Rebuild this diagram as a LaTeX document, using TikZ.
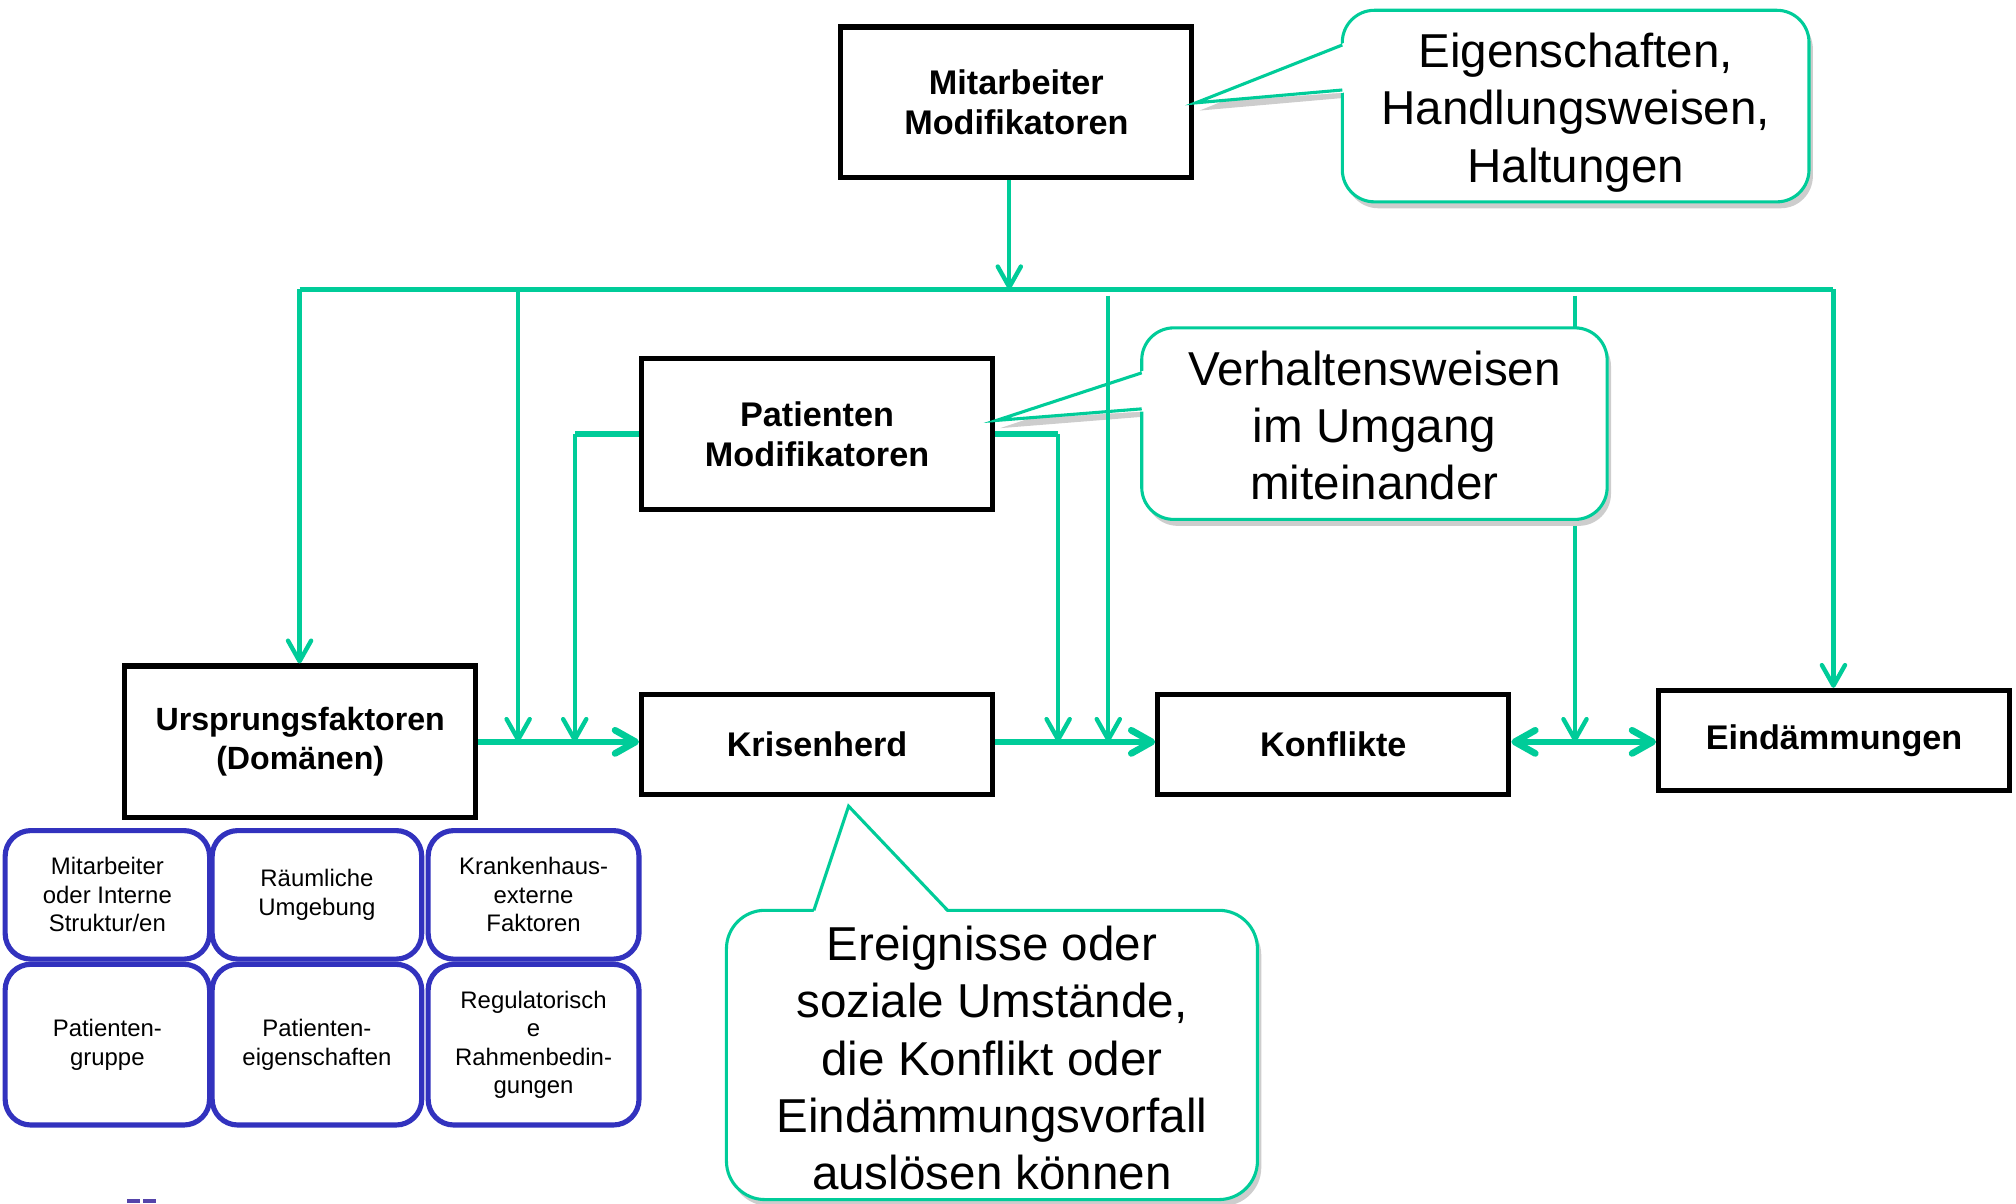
\documentclass[tikz,border=0pt]{standalone}
\usepackage{fontspec}
\setmainfont{Liberation Sans}
\usetikzlibrary{arrows.meta}
\definecolor{tealc}{RGB}{0,204,153}
\definecolor{bluec}{RGB}{50,50,190}
\definecolor{shadec}{RGB}{205,205,205}
\definecolor{logoc}{RGB}{85,68,170}
\begin{document}
\begin{tikzpicture}[x=0.5pt,y=-0.5pt,
  blk/.style={draw=black, line width=2pt, fill=white, inner sep=0pt, align=center,
    font=\fontsize{13.3}{15.5}\selectfont\bfseries, minimum width=136.5pt},
  gbox/.style={draw=bluec, line width=2pt, rounded corners=10pt, fill=white, inner sep=0pt,
    align=center, font=\fontsize{9.3}{11.1}\selectfont},
  ctext/.style={align=center, inner sep=0pt, font=\fontsize{18.5}{22.25}\selectfont},
  cbody/.style={draw=tealc, line width=1.2pt, fill=white},
  cptr/.style={draw=tealc, line width=1.2pt, line join=miter},
  conn/.style={draw=tealc, line width=1.7pt},
  tip/.tip={Straight Barb[length=8pt,width=9pt,round]},
  arr/.style={conn, -tip},
  harr/.style={draw=tealc, line width=2.6pt, -tip},
  ]
\useasboundingbox (0,0) rectangle (1568,935.7);

% ---- boxes ----
\node[blk, minimum height=58.5pt] (mm) at (790.5,79.5) {Mitarbeiter\\Modifikatoren};
\node[blk, minimum height=58.5pt] (pm) at (635.5,337.5) {Patienten\\Modifikatoren};
\node[blk, minimum height=59pt, font=\fontsize{12.5}{15}\selectfont\bfseries] (uf) at (233.5,577) {Ursprungsfaktoren\\(Domänen)};
\node[blk, minimum height=39pt] (kh) at (635.5,579) {Krisenherd};
\node[blk, minimum height=39pt] (ko) at (1037,579) {Konflikte};
\node[blk, minimum height=39pt] (ei) at (1426.5,576) {Eindämmungen};

% ---- bus ----
\coordinate (busL) at (233,225);
\coordinate (busR) at (1426,225);
\coordinate (busM) at (785,225);
\coordinate (b403) at (403,225);
\coordinate (b862) at (862,230);
\coordinate (b1225) at (1225,230);
\coordinate (j447) at (447,577);
\coordinate (j823) at (823,577);
\coordinate (k447) at (447,337.5);
\coordinate (k823) at (823,337.5);

\draw[arr] (mm.south -| busM) -- (busM);
\draw[draw=tealc, line width=2pt] (busL) -- (busR);
\draw[arr] (busL) -- (busL |- uf.north);
\draw[arr] (b403) -- (b403 |- uf.east);
\draw[arr] (busR) -- (busR |- ei.north);
\draw[arr] (b1225) -- (b1225 |- uf.east);
\draw[draw=tealc, line width=2.4pt] (pm.west) -- (k447);
\draw[draw=tealc, line width=2.4pt] (pm.east) -- (k823);
\draw[arr] (k447) -- (j447);
\draw[arr] (k823) -- (j823);

\draw[harr] (uf.east) -- (uf.east -| kh.west);
\draw[harr] (uf.east -| kh.east) -- (uf.east -| ko.west);
\draw[draw=tealc, line width=2.6pt, tip-tip] (uf.east -| ko.east) -- (uf.east -| ei.west);

% ---- callout 1 ----
\fill[shadec, rounded corners=12.5pt] (1047,13) rectangle (1410,162);
\fill[shadec] (933,86) -- (1047,40) -- (1047,76) -- cycle;
\draw[cbody, rounded corners=12.5pt] (1044,8) rectangle (1407,157);
\fill[white] (930,80) -- (1046.5,33) -- (1046.5,72) -- cycle;
\draw[cptr] (1044,35) -- (930,80) -- (1044,70);
\node[ctext] (c1) at (1225.5,87.5) {Eigenschaften,\\Handlungsweisen,\\Haltungen};

% ---- callout 2 ----
\fill[shadec, rounded corners=12.5pt] (891,260) rectangle (1253,409);
\fill[shadec] (778,333) -- (891,295) -- (891,324) -- cycle;
\draw[cbody, rounded corners=12.5pt] (888,255) rectangle (1250,404);
\fill[white] (775,327) -- (890.5,288) -- (890.5,320) -- cycle;
\draw[cptr] (888,290) -- (775,327) -- (888,318);
\node[ctext] (c2) at (1069,331) {Verhaltensweisen\\im Umgang\\miteinander};

\draw[arr] (b862) -- (b862 |- uf.east);

% ---- callout 3 ----
\fill[shadec, rounded corners=15pt] (568,713) rectangle (981,938);
\draw[cbody, rounded corners=15pt] (565,708) rectangle (978,933);
\fill[white] (660,627) -- (632.5,710.5) -- (737.5,710.5) -- cycle;
\draw[cptr] (633,708) -- (660,627) -- (737,708);
\node[ctext] (c3) at (771.5,823) {Ereignisse oder\\soziale Umstände,\\die Konflikt oder\\Eindämmungsvorfall\\auslösen können};

% ---- domain grid ----
\node[gbox, minimum width=79.5pt, minimum height=50pt] (g11) at (83.5,696) {Mitarbeiter\\oder Interne\\Struktur/en};
\node[gbox, minimum width=81.5pt, minimum height=50pt] (g12) at (246.5,696) {Räumliche\\Umgebung};
\node[gbox, minimum width=82pt, minimum height=50pt] (g13) at (415,696) {Krankenhaus-\\externe\\Faktoren};
\node[gbox, minimum width=79.5pt, minimum height=62.5pt] (g21) at (83.5,812.5) {Patienten-\\gruppe};
\node[gbox, minimum width=81.5pt, minimum height=62.5pt] (g22) at (246.5,812.5) {Patienten-\\eigenschaften};
\node[gbox, minimum width=82pt, minimum height=62.5pt] (g23) at (415,812.5) {Regulatorisch\\e\\Rahmenbedin-\\gungen};

% ---- logo fragment ----
\fill[logoc] (99,932.5) rectangle (109,936);
\fill[logoc] (111,932.5) rectangle (121,936);
\end{tikzpicture}
\end{document}
